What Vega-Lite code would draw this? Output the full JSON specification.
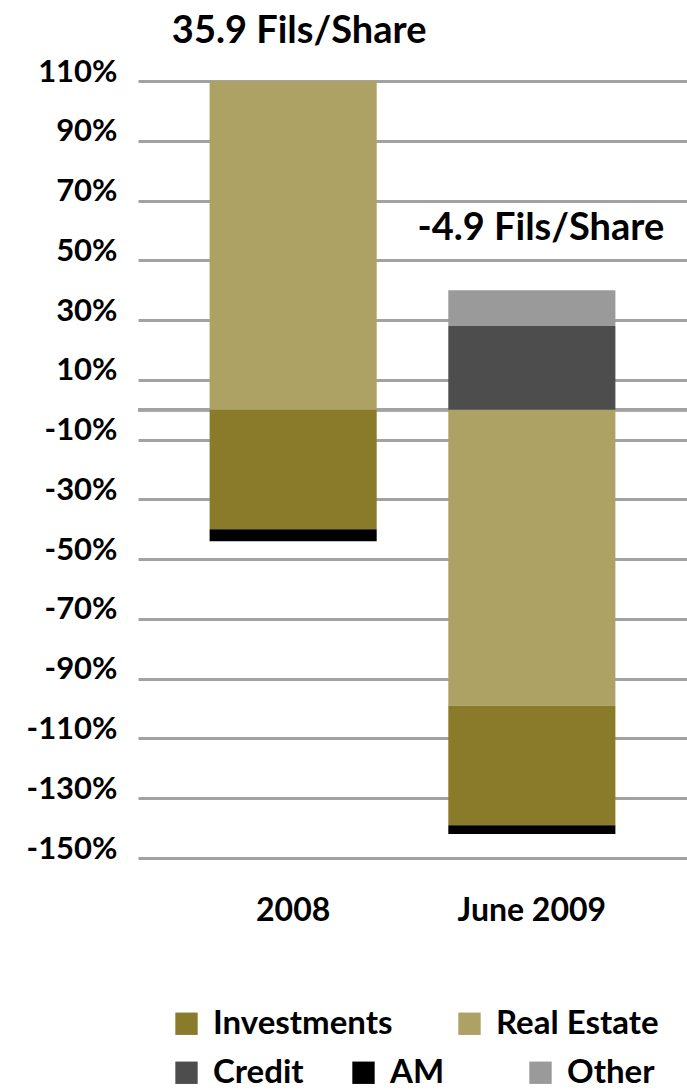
{
  "$schema": "https://vega.github.io/schema/vega-lite/v6.json",
  "width": 549,
  "height": 777,
  "autosize": "none",
  "padding": {"left": 138, "top": 81, "right": 0, "bottom": 233},
  "background": "white",
  "config": {
    "view": {"stroke": null},
    "font": "Lato",
    "legend": {
      "orient": "none",
      "title": null,
      "labelFont": "Lato",
      "labelFontSize": 33,
      "labelFontWeight": "bold",
      "labelColor": "black",
      "labelLimit": 0,
      "symbolType": "square",
      "symbolSize": 500,
      "symbolStrokeWidth": 0,
      "labelOffset": 10,
      "padding": 0,
      "direction": "horizontal"
    }
  },
  "data": {
    "values": [
      {"period": "2008", "segment": "Real Estate", "value": 110, "order": 1},
      {"period": "2008", "segment": "Investments", "value": -40, "order": 2},
      {"period": "2008", "segment": "AM", "value": -4, "order": 3},
      {"period": "June 2009", "segment": "Credit", "value": 28, "order": 0},
      {"period": "June 2009", "segment": "Other", "value": 12, "order": 4},
      {"period": "June 2009", "segment": "Real Estate", "value": -99, "order": 1},
      {"period": "June 2009", "segment": "Investments", "value": -40, "order": 2},
      {"period": "June 2009", "segment": "AM", "value": -3, "order": 3}
    ]
  },
  "transform": [
    {"stack": "value", "groupby": ["period"], "sort": [{"field": "order", "order": "ascending"}], "as": ["v0", "v1"], "offset": "zero"}
  ],
  "layer": [
    {
      "mark": {"type": "rule", "color": "#A2A2A2", "strokeWidth": 3},
      "encoding": {
        "y": {"datum": 0, "type": "quantitative", "scale": {"domain": [-150, 110], "nice": false, "zero": false},
          "axis": {"values": [110, 90, 70, 50, 30, 10, -10, -30, -50, -70, -90, -110, -130, -150], "title": null, "grid": true, "gridColor": "#A2A2A2", "gridWidth": 3, "domain": false, "ticks": false, "labelExpr": "datum.value + '%'", "labelBaseline": "alphabetic", "labelPadding": 21, "labelFont": "Lato", "labelFontSize": 31, "labelFontWeight": "bold", "labelColor": "black"}}
      }
    },
    {
      "transform": [{"filter": {"field": "segment", "oneOf": ["Investments", "Real Estate"]}}],
      "mark": {"type": "bar"},
      "encoding": {
        "x": {"field": "period", "type": "nominal", "sort": ["2008", "June 2009"], "scale": {"paddingInner": 0.3, "paddingOuter": 0.3},
          "axis": {"title": null, "labelAngle": 0, "domain": false, "ticks": false, "labelPadding": 37, "labelFont": "Lato", "labelFontSize": 32, "labelFontWeight": "bold", "labelColor": "black"}},
        "y": {"field": "v0", "type": "quantitative", "scale": {"domain": [-150, 110], "nice": false, "zero": false},
          "axis": {"values": [110, 90, 70, 50, 30, 10, -10, -30, -50, -70, -90, -110, -130, -150], "title": null, "grid": true, "gridColor": "#A2A2A2", "gridWidth": 3, "domain": false, "ticks": false, "labelExpr": "datum.value + '%'", "labelBaseline": "alphabetic", "labelPadding": 21, "labelFont": "Lato", "labelFontSize": 31, "labelFontWeight": "bold", "labelColor": "black"}},
        "y2": {"field": "v1"},
        "color": {"field": "segment", "type": "nominal",
          "scale": {"domain": ["Investments", "Real Estate"], "range": ["#8A7B2B", "#ADA263"]},
          "legend": {"legendX": 32, "legendY": 926, "columnPadding": 60, "gridAlign": "each"}}
      }
    },
    {
      "transform": [{"filter": {"field": "segment", "oneOf": ["Credit", "AM", "Other"]}}],
      "mark": {"type": "bar"},
      "encoding": {
        "x": {"field": "period", "type": "nominal", "sort": ["2008", "June 2009"], "scale": {"paddingInner": 0.3, "paddingOuter": 0.3},
          "axis": {"title": null, "labelAngle": 0, "domain": false, "ticks": false, "labelPadding": 37, "labelFont": "Lato", "labelFontSize": 32, "labelFontWeight": "bold", "labelColor": "black"}},
        "y": {"field": "v0", "type": "quantitative", "scale": {"domain": [-150, 110], "nice": false, "zero": false},
          "axis": {"values": [110, 90, 70, 50, 30, 10, -10, -30, -50, -70, -90, -110, -130, -150], "title": null, "grid": true, "gridColor": "#A2A2A2", "gridWidth": 3, "domain": false, "ticks": false, "labelExpr": "datum.value + '%'", "labelBaseline": "alphabetic", "labelPadding": 21, "labelFont": "Lato", "labelFontSize": 31, "labelFontWeight": "bold", "labelColor": "black"}},
        "y2": {"field": "v1"},
        "color": {"field": "segment", "type": "nominal",
          "scale": {"domain": ["Credit", "AM", "Other"], "range": ["#4D4D4D", "#000000", "#9A9A9A"]},
          "legend": {"legendX": 32, "legendY": 975, "columnPadding": 43, "gridAlign": "all"}}
      }
    },
    {
      "data": {"values": [{"period": "2008", "label": "35.9 Fils/Share", "top": 110}]},
      "mark": {"type": "text", "font": "Lato", "fontSize": 38, "fontWeight": "bold", "color": "black", "baseline": "alphabetic", "align": "center", "dy": -38, "dx": 6},
      "encoding": {
        "x": {"field": "period", "type": "nominal", "sort": ["2008", "June 2009"]},
        "y": {"field": "top", "type": "quantitative"},
        "text": {"field": "label"}
      }
    },
    {
      "data": {"values": [{"period": "June 2009", "label": "-4.9 Fils/Share", "top": 40}]},
      "mark": {"type": "text", "font": "Lato", "fontSize": 38, "fontWeight": "bold", "color": "black", "baseline": "alphabetic", "align": "center", "dy": -50, "dx": 9},
      "encoding": {
        "x": {"field": "period", "type": "nominal", "sort": ["2008", "June 2009"]},
        "y": {"field": "top", "type": "quantitative"},
        "text": {"field": "label"}
      }
    }
  ],
  "resolve": {"scale": {"color": "independent"}, "legend": {"color": "independent"}}
}
